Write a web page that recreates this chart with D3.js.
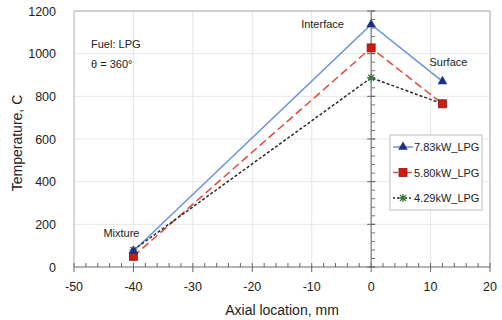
<!DOCTYPE html>
<html>
<head>
<meta charset="utf-8">
<script src="https://cdn.jsdelivr.net/npm/d3@7"></script>
<style>
  body { margin: 0; background: #fff; }
  svg { display: block; font-family: "Liberation Sans", Arial, sans-serif; }
</style>
</head>
<body>
<div id="chart"></div>
<script>
// data
const positions = [-40, 0, 12];
const series = [
  {name: '7.83kW_LPG', values: [75, 1137, 870]},
  {name: '5.80kW_LPG', values: [50, 1027, 765]},
  {name: '4.29kW_LPG', values: [80, 887, 765]}
];
const xTicks = [-50, -40, -30, -20, -10, 0, 10, 20];
const yTicks = [0, 200, 400, 600, 800, 1000, 1200];
const pointLabels = [
  {text: 'Mixture', x: -40, y: 200},
  {text: 'Interface', x: 0, y: 1137},
  {text: 'Surface', x: 12, y: 870}
];

const styles = [
  {line: '#6a93dc', dash: null, marker: 'triangle', fill: '#1a2f86', stroke: '#1a2f86'},
  {line: '#e04a3c', dash: '8,4', marker: 'square', fill: '#d01a0a', stroke: '#8a1a10'},
  {line: '#2a2a2a', dash: '3,2', marker: 'star', fill: '#3f8a3f', stroke: '#3f7a3f'}
];

const W = 502, H = 320;
const margin = {top: 11, right: 12, bottom: 53, left: 74};
const width = W - margin.left - margin.right;
const height = H - margin.top - margin.bottom;

const svg = d3.select('#chart').append('svg')
  .attr('width', W)
  .attr('height', H);
const g = svg.append('g')
  .attr('transform', `translate(${margin.left},${margin.top})`);

const x = d3.scaleLinear().domain([-50, 20]).range([0, width]);
const y = d3.scaleLinear().domain([0, 1200]).range([height, 0]);

// grid
g.append('g').selectAll('line').data(xTicks.slice(1)).join('line')
  .attr('x1', d => x(d)).attr('x2', d => x(d))
  .attr('y1', 0).attr('y2', height)
  .attr('stroke', '#e6e6e6');
g.append('g').selectAll('line').data(yTicks.slice(1)).join('line')
  .attr('x1', 0).attr('x2', width)
  .attr('y1', d => y(d)).attr('y2', d => y(d))
  .attr('stroke', '#e6e6e6');

// frame
g.append('path')
  .attr('d', `M0,${height}V0H${width}V${height}`)
  .attr('fill', 'none')
  .attr('stroke', '#b0b0b0');

// bottom axis: major ticks go down, minor ticks go up
const xAxis = g.append('g').attr('transform', `translate(0,${height})`);
xAxis.append('line').attr('x1', 0).attr('x2', width).attr('stroke', '#666');
xAxis.selectAll('.minor').data(d3.range(-50, 20.01, 2)).join('line')
  .attr('x1', d => x(d)).attr('x2', d => x(d))
  .attr('y1', 0).attr('y2', -4)
  .attr('stroke', '#666');
xAxis.selectAll('.major').data(xTicks).join('line')
  .attr('x1', d => x(d)).attr('x2', d => x(d))
  .attr('y1', 0).attr('y2', 5)
  .attr('stroke', '#666');
xAxis.selectAll('text').data(xTicks).join('text')
  .attr('x', d => x(d)).attr('y', 24)
  .attr('text-anchor', 'middle')
  .attr('font-size', 12.5)
  .attr('fill', '#222')
  .text(d => d);

// vertical axis crossing at x = 0
const yAxis = g.append('g').attr('transform', `translate(${x(0)},0)`);
yAxis.append('line').attr('y1', 0).attr('y2', height).attr('stroke', '#666');
yAxis.selectAll('.minor').data(d3.range(0, 1200.1, 40)).join('line')
  .attr('y1', d => y(d)).attr('y2', d => y(d))
  .attr('x1', 0).attr('x2', 4)
  .attr('stroke', '#777');
yAxis.selectAll('.major').data(yTicks).join('line')
  .attr('y1', d => y(d)).attr('y2', d => y(d))
  .attr('x1', -4).attr('x2', 4)
  .attr('stroke', '#666');

// y tick labels on the left
g.append('g').selectAll('text').data(yTicks).join('text')
  .attr('x', -18).attr('y', d => y(d) + 4.5)
  .attr('text-anchor', 'end')
  .attr('font-size', 12.5)
  .attr('fill', '#222')
  .text(d => d);

// axis titles
svg.append('text')
  .attr('x', margin.left + x(-15)).attr('y', 315)
  .attr('text-anchor', 'middle')
  .attr('font-size', 14)
  .attr('fill', '#222')
  .text('Axial location, mm');
svg.append('text')
  .attr('transform', `translate(22,${margin.top + height / 2 + 4}) rotate(-90)`)
  .attr('text-anchor', 'middle')
  .attr('font-size', 14)
  .attr('fill', '#222')
  .text('Temperature, C');

// markers
const triangle = d3.symbol().type(d3.symbolTriangle).size(40);
const starPath = 'M-4,0H4M0,-4V4M-3,-3L3,3M-3,3L3,-3';
function drawMarker(sel, s) {
  if (s.marker === 'triangle') {
    sel.append('path').attr('d', triangle()).attr('fill', s.fill);
  } else if (s.marker === 'square') {
    sel.append('rect').attr('x', -4).attr('y', -4).attr('width', 8).attr('height', 8)
      .attr('fill', s.fill).attr('stroke', s.stroke).attr('stroke-width', 0.8);
  } else {
    sel.append('path').attr('d', starPath).attr('fill', 'none')
      .attr('stroke', s.stroke).attr('stroke-width', 1.3);
  }
}

const line = d3.line()
  .x((d, i) => x(positions[i]))
  .y(d => y(d));

series.forEach((s, k) => {
  const st = styles[k];
  g.append('path')
    .datum(s.values)
    .attr('fill', 'none')
    .attr('stroke', st.line)
    .attr('stroke-width', 1.5)
    .attr('stroke-dasharray', st.dash)
    .attr('d', line);
});
// draw markers last series first so triangles end on top
series.slice().reverse().forEach((s, rk) => {
  const st = styles[series.length - 1 - rk];
  s.values.forEach((v, i) => {
    const m = g.append('g').attr('transform', `translate(${x(positions[i])},${y(v)})`);
    drawMarker(m, st);
  });
});

// point annotations
const labelOffsets = [{dx: -30, dy: 13}, {dx: -70, dy: 4}, {dx: -13, dy: -15}];
g.append('g').selectAll('text').data(pointLabels).join('text')
  .attr('x', (d, i) => x(d.x) + labelOffsets[i].dx)
  .attr('y', (d, i) => y(d.y) + labelOffsets[i].dy)
  .attr('font-size', 11)
  .attr('fill', '#222')
  .text(d => d.text);

// fuel note
g.append('text').attr('x', 17).attr('y', 37).attr('font-size', 11).attr('fill', '#222').text('Fuel: LPG');
g.append('text').attr('x', 17).attr('y', 57).attr('font-size', 11).attr('fill', '#222')
  .text('θ = 360°');

// legend
const legend = svg.append('g').attr('transform', 'translate(390,135)');
legend.append('rect')
  .attr('width', 92).attr('height', 75)
  .attr('fill', '#fff').attr('stroke', '#bdbdbd');
series.forEach((s, k) => {
  const st = styles[k];
  const row = legend.append('g').attr('transform', `translate(0,${12 + k * 25.5})`);
  row.append('line')
    .attr('x1', 3).attr('x2', 23)
    .attr('stroke', st.line).attr('stroke-width', 1.5)
    .attr('stroke-dasharray', st.dash ? (k === 1 ? '5,2' : '2,2') : null);
  const m = row.append('g').attr('transform', 'translate(13,0)');
  drawMarker(m, st);
  row.append('text')
    .attr('x', 24).attr('y', 4)
    .attr('font-size', 11)
    .attr('fill', '#222')
    .text(s.name);
});
</script>
</body>
</html>
